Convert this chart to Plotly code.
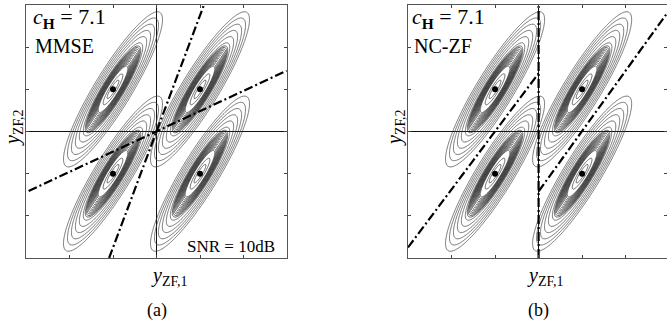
import numpy as np
import plotly.graph_objects as go

W, H = 667, 323

# Symbol centres (means) of the four received-signal clouds
centers_x = [-1.0, 1.0, -1.0, 1.0]
centers_y = [1.0, 1.0, -1.0, -1.0]

# Shape of each cloud: outermost contour semi-axes and tilt (degrees)
outer_major = 2.12
outer_minor = 0.43
tilt_deg = 59.5

# Contour radii (normalised to the outermost contour)
sparse_levels = dict(start=0.60, end=1.001, size=0.08)
dense_levels = dict(start=0.30, end=0.561, size=0.02)
core_levels = dict(start=0.12, end=0.201, size=0.08)

# Decision boundaries (dash-dot), panel (a) MMSE
a_bound1_x = [-1.09, 1.09]
a_bound1_y = [-3.0, 3.0]
a_bound2_x = [-2.94, 2.99]
a_bound2_y = [-1.41, 1.44]

# Decision boundaries (dash-dot), panel (b) NC-ZF
b_bound1_x = [-3.0, 0.0]
b_bound1_y = [-2.75, 1.38]
b_bound2_x = [0.0, 2.97]
b_bound2_y = [-1.42, 2.83]
b_bound3_x = [0.0, 0.0]
b_bound3_y = [-3.0, 3.0]

th = np.deg2rad(tilt_deg)


def radius_field(cx, cy):
    gx = np.round(np.arange(cx - 1.25, cx + 1.25001, 0.02), 3)
    gy = np.round(np.arange(cy - 2.05, cy + 2.05001, 0.02), 3)
    X, Y = np.meshgrid(gx, gy)
    dx, dy = X - cx, Y - cy
    u = dx * np.cos(th) + dy * np.sin(th)
    v = -dx * np.sin(th) + dy * np.cos(th)
    R = np.sqrt((u / outer_major) ** 2 + (v / outer_minor) ** 2)
    return gx, gy, np.round(R, 3)


fields = [radius_field(cx, cy) for cx, cy in zip(centers_x, centers_y)]

fig = go.Figure()

dashdot = "9px,3px,2px,3px"
styles = [(sparse_levels, 0.7, "#3c3c3c"), (dense_levels, 0.7, "#2a2a2a"),
          (core_levels, 0.7, "#2a2a2a")]

for xa, ya in [("x", "y"), ("x2", "y2")]:
    for gx, gy, R in fields:
        for lv, lw, col in styles:
            fig.add_trace(go.Contour(
                x=gx, y=gy, z=R, xaxis=xa, yaxis=ya,
                contours=dict(coloring="lines", showlabels=False, **lv),
                colorscale=[[0, col], [1, col]],
                line=dict(width=lw), showscale=False, hoverinfo="skip",
            ))
    fig.add_trace(go.Scatter(
        x=centers_x, y=centers_y, xaxis=xa, yaxis=ya, mode="markers",
        marker=dict(color="black", size=6), hoverinfo="skip", showlegend=False,
    ))

for bx, by in [(a_bound1_x, a_bound1_y), (a_bound2_x, a_bound2_y)]:
    fig.add_trace(go.Scatter(x=bx, y=by, xaxis="x", yaxis="y", mode="lines",
                             line=dict(color="black", width=2.2, dash=dashdot),
                             hoverinfo="skip", showlegend=False))
for bx, by in [(b_bound1_x, b_bound1_y), (b_bound2_x, b_bound2_y), (b_bound3_x, b_bound3_y)]:
    fig.add_trace(go.Scatter(x=bx, y=by, xaxis="x2", yaxis="y2", mode="lines",
                             line=dict(color="black", width=2.2, dash=dashdot),
                             hoverinfo="skip", showlegend=False))

ydom = [1 - 258 / H, 1 - 5 / H]
axis_common = dict(
    showgrid=False, showticklabels=False, ticks="inside", ticklen=3,
    tickcolor="#444", tickvals=[-2, -1, 0, 1, 2], showline=True,
    linecolor="#555", linewidth=1, mirror="ticks", zeroline=True,
    zerolinecolor="#111", zerolinewidth=1,
)

fig.update_layout(
    width=W, height=H, margin=dict(l=0, r=0, t=0, b=0),
    paper_bgcolor="white", plot_bgcolor="white", showlegend=False,
    xaxis=dict(domain=[26 / W, 287 / W], range=[-3, 3], **axis_common),
    yaxis=dict(domain=ydom, range=[-3, 3], **axis_common),
    xaxis2=dict(domain=[408 / W, 1.0], range=[-3, 2.95], anchor="y2", **axis_common),
    yaxis2=dict(domain=ydom, range=[-3, 3], anchor="x2", **axis_common),
    font=dict(family="Liberation Serif", color="black"),
)


def px(x, y):
    return x / W, 1 - y / H


def note(text, x, y, size, xanchor="center", yanchor="middle", angle=0):
    xp, yp = px(x, y)
    fig.add_annotation(text=text, x=xp, y=yp, xref="paper", yref="paper",
                       showarrow=False, xanchor=xanchor, yanchor=yanchor,
                       textangle=angle, font=dict(size=size, family="Liberation Serif"))


cH = "<i>c</i><sub><b>H</b></sub> = 7.1"
ylab1 = "<i>y</i><sub>ZF,1</sub>"
ylab2 = "<i>y</i><sub>ZF,2</sub>"

note(cH, 31, 18, 22, xanchor="left")
note("MMSE", 33, 46, 20, xanchor="left")
note("SNR = 10dB", 277, 246, 17, xanchor="right")
note(ylab1, 169, 276, 20)
note(ylab2, 13, 128, 20, angle=-90)
note("(a)", 157, 310, 18)

note(cH, 410, 18, 22, xanchor="left")
note("NC-ZF", 412, 46, 20, xanchor="left")
note(ylab1, 545, 276, 20)
note(ylab2, 395, 128, 20, angle=-90)
note("(b)", 538, 310, 18)

fig.write_html("out.html")
